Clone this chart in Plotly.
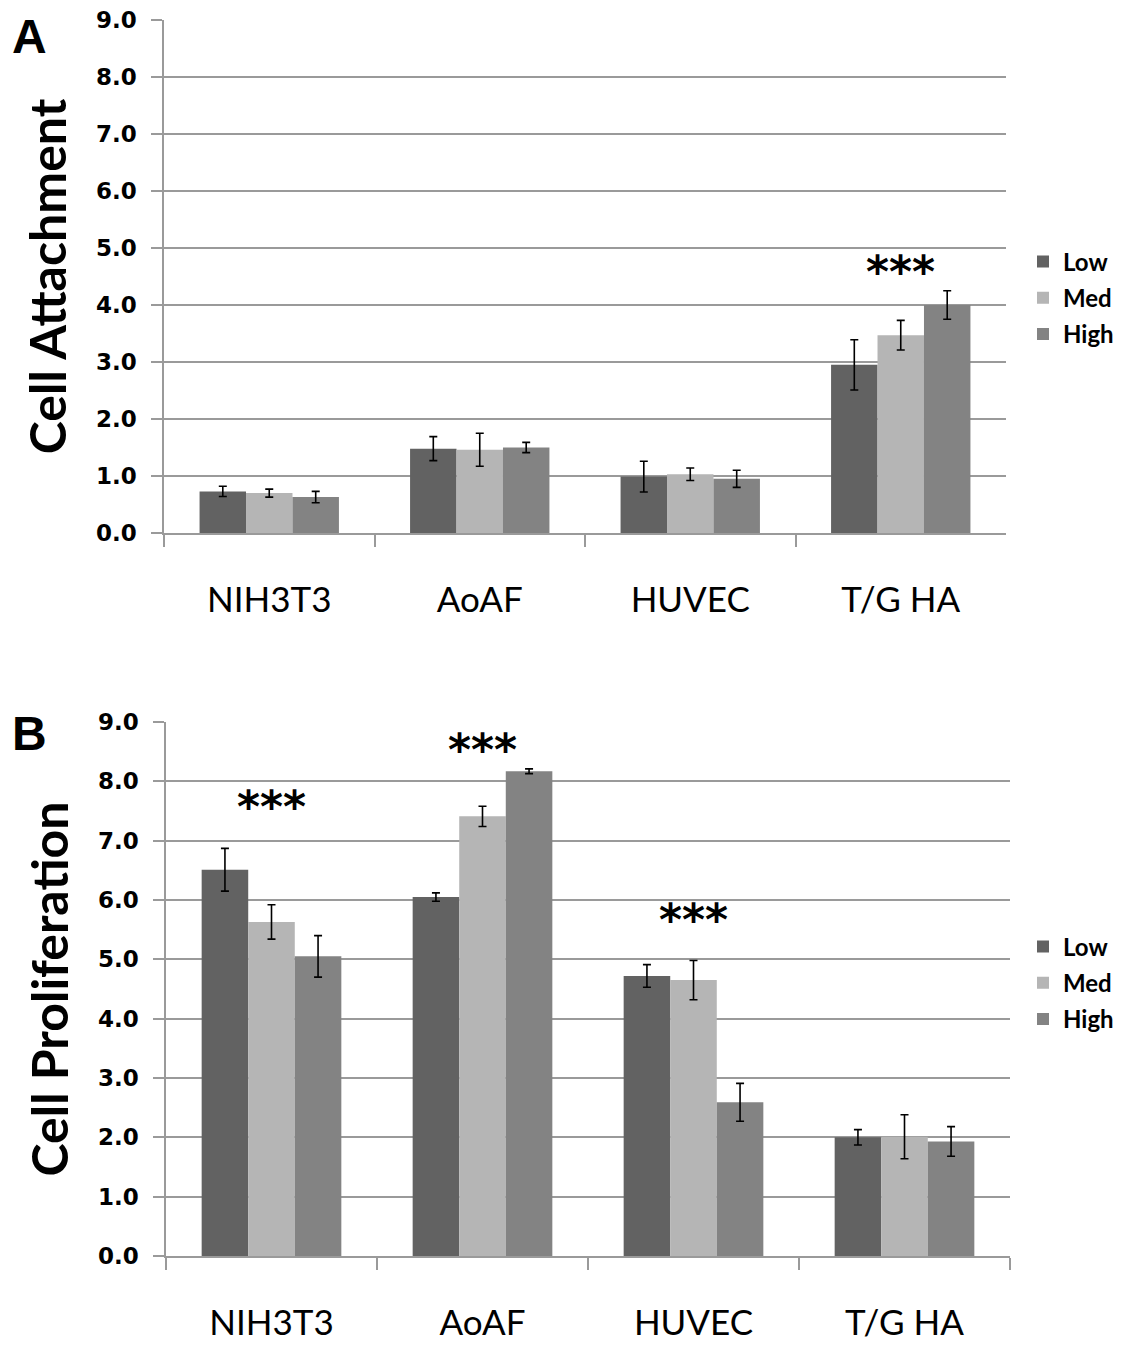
import plotly.graph_objects as go

categories = ["NIH3T3", "AoAF", "HUVEC", "T/G HA"]
levels = ["Low", "Med", "High"]

# Panel A: Cell Attachment
attach_low = [0.73, 1.48, 0.99, 2.95]
attach_low_err = [0.09, 0.21, 0.27, 0.44]
attach_med = [0.70, 1.46, 1.03, 3.47]
attach_med_err = [0.07, 0.29, 0.11, 0.26]
attach_high = [0.63, 1.50, 0.95, 4.00]
attach_high_err = [0.10, 0.09, 0.15, 0.25]

# Panel B: Cell Proliferation
prolif_low = [6.51, 6.05, 4.72, 2.00]
prolif_low_err = [0.36, 0.07, 0.19, 0.13]
prolif_med = [5.63, 7.41, 4.65, 2.01]
prolif_med_err = [0.29, 0.17, 0.33, 0.37]
prolif_high = [5.05, 8.17, 2.59, 1.93]
prolif_high_err = [0.35, 0.04, 0.32, 0.25]

y_ticks = [0, 1, 2, 3, 4, 5, 6, 7, 8, 9]

colors = {"Low": "#626262", "Med": "#b5b5b5", "High": "#838383"}

FIG_W, FIG_H = 1133, 1345
PAGE_OFFSET = 8  # browser body margin

def px_x(v):
    return (v - PAGE_OFFSET) / FIG_W

def px_y(v):
    return 1 - (v - PAGE_OFFSET) / FIG_H

fig = go.Figure()

panelA = {"Low": (attach_low, attach_low_err),
          "Med": (attach_med, attach_med_err),
          "High": (attach_high, attach_high_err)}
panelB = {"Low": (prolif_low, prolif_low_err),
          "Med": (prolif_med, prolif_med_err),
          "High": (prolif_high, prolif_high_err)}

for lvl in levels:
    vals, errs = panelA[lvl]
    fig.add_trace(go.Bar(
        x=categories, y=vals, name=lvl, xaxis="x", yaxis="y",
        marker=dict(color=colors[lvl], line=dict(width=0)),
        error_y=dict(type="data", array=errs, color="black", thickness=1.6, width=4),
        legend="legend", legendgroup="A" + lvl,
    ))
for lvl in levels:
    vals, errs = panelB[lvl]
    fig.add_trace(go.Bar(
        x=categories, y=vals, name=lvl, xaxis="x2", yaxis="y2",
        marker=dict(color=colors[lvl], line=dict(width=0)),
        error_y=dict(type="data", array=errs, color="black", thickness=1.6, width=4),
        legend="legend2", legendgroup="B" + lvl,
    ))

grid_col = "#9a9a9a"
tick_font = dict(family="DejaVu Sans", size=23, color="black", weight="bold")
cat_font = dict(family="Lato", size=35, color="black")
title_font = dict(family="Lato", size=50, color="black", weight="bold")

def xaxis_cfg(domain, anchor):
    return dict(domain=domain, anchor=anchor, type="category", tickson="boundaries",
                showline=True, linecolor=grid_col, linewidth=1.5,
                ticks="outside", ticklen=12, tickcolor=grid_col, tickwidth=1.5,
                showgrid=False, tickfont=cat_font, ticklabelstandoff=35,
                range=[-0.5, 3.5], zeroline=False, automargin=False)

def yaxis_cfg(domain, anchor, title):
    return dict(domain=domain, anchor=anchor, range=[0, 9], tickvals=y_ticks,
                tickformat=".1f", showline=True, linecolor=grid_col, linewidth=1.5,
                ticks="outside", ticklen=11, tickcolor=grid_col, tickwidth=1.5,
                showgrid=True, gridcolor=grid_col, gridwidth=1.5, zeroline=False,
                tickfont=tick_font, ticklabelstandoff=10, automargin=False,
                ticklabeloverflow="allow",
                title=dict(text=title, font=title_font, standoff=13))

legend_font = dict(family="Lato", size=24, color="black", weight="bold")

fig.update_layout(
    width=FIG_W, height=FIG_H,
    margin=dict(l=0, r=0, t=0, b=0, autoexpand=False),
    paper_bgcolor="white", plot_bgcolor="white",
    barmode="group", bargap=0.338, bargroupgap=0,
    xaxis=xaxis_cfg([px_x(164), px_x(1006)], "y"),
    yaxis=yaxis_cfg([px_y(533), px_y(20)], "x", "Cell Attachment"),
    xaxis2=xaxis_cfg([px_x(166), px_x(1010)], "y2"),
    yaxis2=yaxis_cfg([px_y(1256), px_y(722)], "x2", "Cell Proliferation"),
    legend=dict(x=px_x(1023), y=px_y(298), xanchor="left", yanchor="middle",
                font=legend_font, traceorder="grouped", tracegroupgap=2,
                bgcolor="rgba(0,0,0,0)"),
    legend2=dict(x=px_x(1023), y=px_y(983), xanchor="left", yanchor="middle",
                 font=legend_font, traceorder="grouped", tracegroupgap=2,
                 bgcolor="rgba(0,0,0,0)"),
    showlegend=True,
)

star_font = dict(family="DejaVu Sans", size=44, color="black", weight="bold")
annots = [
    dict(x="T/G HA", y=4.58, xref="x", yref="y"),
    dict(x="NIH3T3", y=7.58, xref="x2", yref="y2"),
    dict(x="AoAF", y=8.53, xref="x2", yref="y2"),
    dict(x="HUVEC", y=5.67, xref="x2", yref="y2"),
]
for a in annots:
    fig.add_annotation(text="***", showarrow=False, font=star_font,
                       xanchor="center", yanchor="middle", **a)

letter_font = dict(family="Liberation Sans", size=48, color="black", weight="bold")
fig.add_annotation(text="A", x=px_x(30), y=1, xref="paper", yref="paper",
                   showarrow=False, font=letter_font, xanchor="center", yanchor="top")
fig.add_annotation(text="B", x=px_x(30), y=px_y(733), xref="paper", yref="paper",
                   showarrow=False, font=letter_font, xanchor="center", yanchor="middle")

fig.write_html("out.html")
